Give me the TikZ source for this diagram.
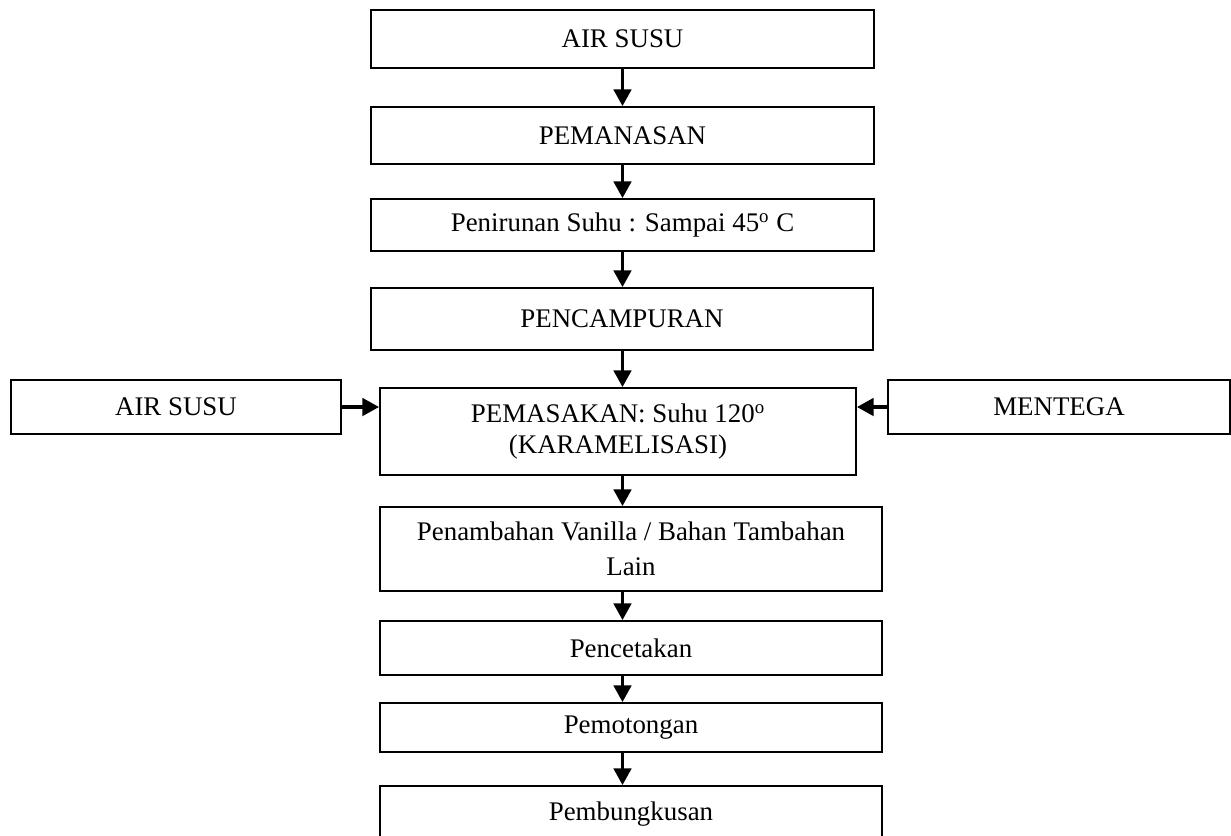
\documentclass[tikz,border=0pt]{standalone}
\usepackage{fontspec}
\setmainfont{Liberation Serif}
\usetikzlibrary{arrows.meta,positioning}
\tikzset{box/.style={draw,line width=1.1pt,align=center,inner sep=4pt,font=\fontsize{15.3}{17.5}\selectfont},arr/.style={-{Triangle[width=10pt,length=9.5pt]},line width=1.8pt}}

\begin{document}
\begin{tikzpicture}[x=1cm,y=1cm]
\useasboundingbox(0,0)rectangle(24.62,-16.70);
\node[box,minimum width=10.06cm,minimum height=1.16cm](milk)at(12.45,-0.78){AIR SUSU};
\node[box,minimum width=10.06cm,minimum height=1.14cm](heat)at(12.45,-2.71){PEMANASAN};
\node[box,minimum width=10.06cm,minimum height=1.04cm](cool)at(12.45,-4.50){Penirunan Suhu : Sampai 45\textsuperscript{o} C};
\node[box,minimum width=10.04cm,minimum height=1.24cm](mix)at(12.44,-6.38){PENCAMPURAN};
\node[box,minimum width=9.52cm,minimum height=1.74cm](cook)at(12.36,-8.63){PEMASAKAN: Suhu 120\textsuperscript{o}\\(KARAMELISASI)};
\node[box,minimum width=10.04cm,minimum height=1.68cm](vanilla)at(12.62,-10.98){Penambahan Vanilla / Bahan Tambahan\\[2.5pt]Lain};
\node[box,minimum width=10.04cm,minimum height=1.08cm](mould)at(12.62,-12.96){Pencetakan};
\node[box,minimum width=10.04cm,minimum height=0.98cm](cut)at(12.62,-14.55){Pemotongan};
\node[box,minimum width=10.04cm,minimum height=1.12cm](pack)at(12.62,-16.28){Pembungkusan};
\node[box,minimum width=6.60cm,minimum height=1.08cm](milk2)at(3.52,-8.14){AIR SUSU};
\node[box,minimum width=6.84cm,minimum height=1.08cm](butter)at(21.18,-8.14){MENTEGA};
\foreach\a/\b in{milk/heat,heat/cool,cool/mix,mix/cook,cook/vanilla,vanilla/mould,mould/cut,cut/pack}\draw[arr](\a.south-|milk.south)--(\b.north-|milk.south);
\draw[arr](milk2.east)--(milk2.east-|cook.west);
\draw[arr](butter.west)--(butter.west-|cook.east);
\end{tikzpicture}
\end{document}
